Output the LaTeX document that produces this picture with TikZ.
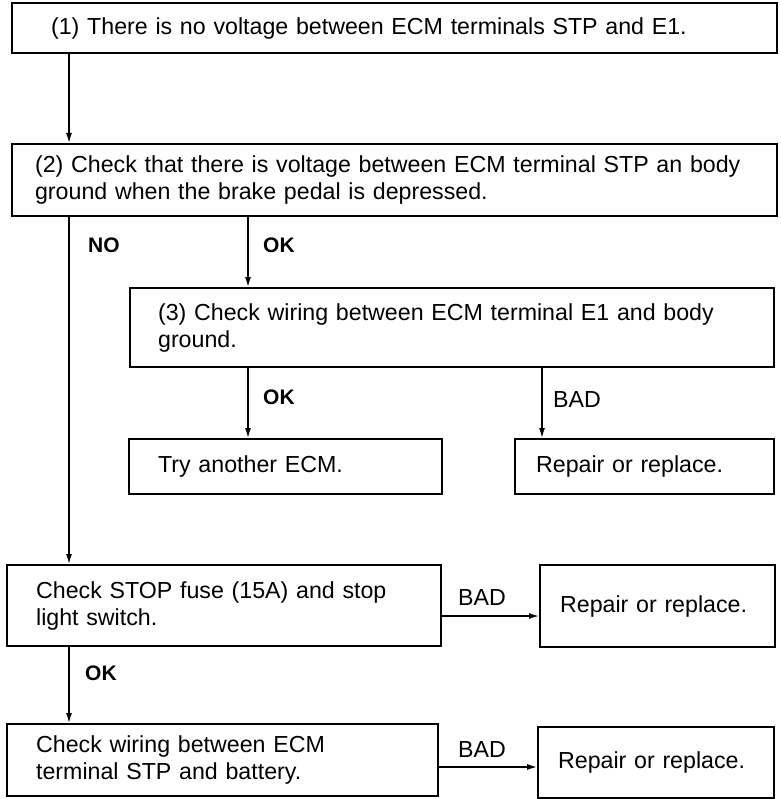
\documentclass[tikz,border=0pt]{standalone}
\usepackage{fontspec}
\setmainfont{Liberation Sans}
\usetikzlibrary{arrows.meta}
\tikzset{
  chkbox/.style={draw, line width=2.2pt, anchor=north west, align=left, inner ysep=0pt,
    font=\fontsize{23.2}{27}\selectfont},
  flow/.style={line width=1.4pt, -{Latex[length=10pt,width=6pt]}},
  oklabel/.style={anchor=west, inner sep=0pt, font=\fontsize{21}{24}\selectfont\bfseries},
  badlabel/.style={anchor=west, inner sep=0pt, font=\fontsize{23.2}{27}\selectfont}
}

\begin{document}
\begin{tikzpicture}[x=1pt,y=-1pt]
\useasboundingbox (0,0) rectangle (780,799);

% the checks
\node[chkbox, minimum width=765pt, minimum height=50pt, inner xsep=39pt, text width=687pt] (q1) at (11,2)
  {(1) There is no voltage between ECM terminals STP and E1.};
\node[chkbox, minimum width=765pt, minimum height=72pt, inner xsep=23pt, text width=719pt] (q2) at (11,143)
  {(2) Check that there is voltage between ECM terminal STP an body\\ground when the brake pedal is depressed.};
\node[chkbox, minimum width=644pt, minimum height=79pt, inner xsep=28pt, text width=588pt] (q3) at (129,287)
  {(3) Check wiring between ECM terminal E1 and body\\ground.};
\node[chkbox, minimum width=313pt, minimum height=55pt, inner xsep=29pt, text width=255pt] (ecm) at (128,438)
  {Try another ECM.};
\node[chkbox, minimum width=259pt, minimum height=55pt, inner xsep=21pt, text width=217pt] (fix1) at (514,438)
  {Repair or replace.};
\node[chkbox, minimum width=434pt, minimum height=81pt, inner xsep=29pt, text width=376pt] (fuse) at (6,564)
  {Check STOP fuse (15A) and stop\\light switch.};
\node[chkbox, minimum width=235pt, minimum height=82pt, inner xsep=20pt, text width=195pt] (fix2) at (539,564)
  {Repair or replace.};
\node[chkbox, minimum width=431pt, minimum height=72pt, inner xsep=29pt, text width=373pt] (wire) at (6,723)
  {Check wiring between ECM\\terminal STP and battery.};
\node[chkbox, minimum width=236pt, minimum height=71pt, inner xsep=20pt, text width=196pt] (fix3) at (537,726)
  {Repair or replace.};

% where the lines run
\coordinate (xa) at (69,0);
\coordinate (xb) at (248,0);
\coordinate (xc) at (542,0);
\coordinate (ya) at (0,616);
\coordinate (yb) at (0,767);

\draw[flow] (q1.south -| xa) -- (q2.north -| xa);
\draw[flow] (q2.south -| xa) -- (fuse.north -| xa);
\draw[flow] (q2.south -| xb) -- (q3.north -| xb);
\draw[flow] (q3.south -| xb) -- (ecm.north -| xb);
\draw[flow] (q3.south -| xc) -- (fix1.north -| xc);
\draw[flow] (fuse.east |- ya) -- (fix2.west |- ya);
\draw[flow] (fuse.south -| xa) -- (wire.north -| xa);
\draw[flow] (wire.east |- yb) -- (fix3.west |- yb);

% labels
\node[oklabel] (no) at (88,245) {NO};
\node[oklabel] (ok1) at (263,245) {OK};
\node[oklabel] (ok2) at (263,397) {OK};
\node[badlabel] (bad1) at (553,400) {BAD};
\node[badlabel] (bad2) at (458,598) {BAD};
\node[oklabel] (ok3) at (85,673) {OK};
\node[badlabel] (bad3) at (458,750) {BAD};

\end{tikzpicture}
\end{document}
